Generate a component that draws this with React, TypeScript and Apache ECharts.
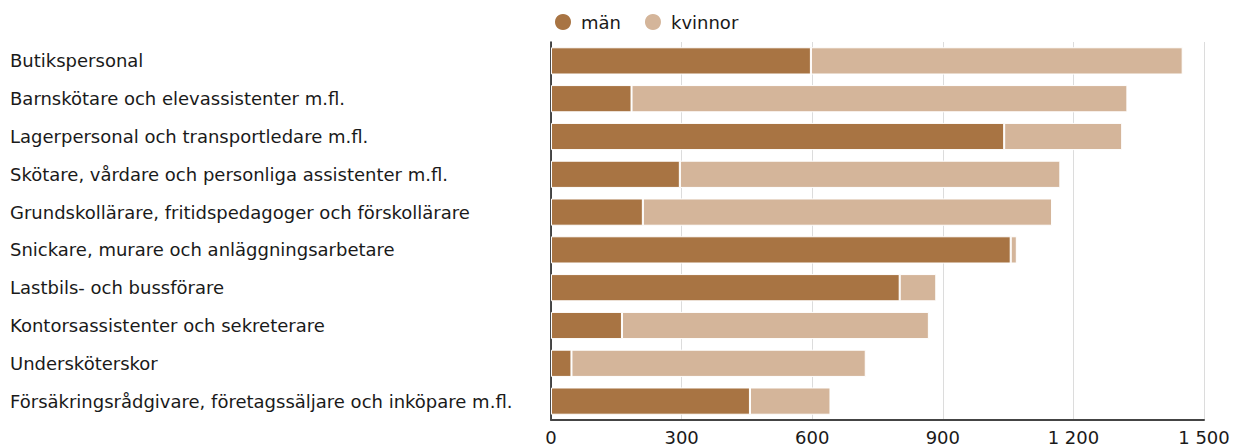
import React, { useEffect, useRef } from "react";
import * as echarts from "echarts";

const categories = [
  "Butikspersonal",
  "Barnskötare och elevassistenter m.fl.",
  "Lagerpersonal och transportledare m.fl.",
  "Skötare, vårdare och personliga assistenter m.fl.",
  "Grundskollärare, fritidspedagoger och förskollärare",
  "Snickare, murare och anläggningsarbetare",
  "Lastbils- och bussförare",
  "Kontorsassistenter och sekreterare",
  "Undersköterskor",
  "Försäkringsrådgivare, företagssäljare och inköpare m.fl.",
];
const man = [597, 185, 1041, 296, 211, 1056, 801, 163, 47, 457];
const kvinnor = [854, 1139, 271, 874, 940, 14, 84, 705, 676, 185];
const xTicks = [0, 300, 600, 900, 1200, 1500];

const FONT = "DejaVu Sans";

export default function App() {
  const ref = useRef<HTMLDivElement>(null);
  useEffect(() => {
    if (!ref.current) return;
    const chart = echarts.init(ref.current, undefined, { renderer: "svg" });
    chart.setOption({
      animation: false,
      legend: {
        top: 12,
        left: 553,
        padding: 0,
        itemWidth: 18,
        itemHeight: 18,
        itemGap: 22,
        icon: "circle",
        textStyle: { fontFamily: FONT, fontSize: 18, color: "#1a1a1a", padding: [0, 0, 0, 4] },
        data: ["män", "kvinnor"],
      },
      grid: { left: 551, right: 30, top: 42, bottom: 26, containLabel: false },
      xAxis: {
        type: "value",
        min: 0,
        max: 1500,
        interval: 300,
        axisLine: { show: true, lineStyle: { color: "#444", width: 2 } },
        axisTick: { show: false },
        splitLine: { show: true, lineStyle: { color: "#dcdcdc", width: 1 } },
        axisLabel: {
          fontFamily: FONT,
          fontSize: 18,
          lineHeight: 14,
          color: "#1a1a1a",
          margin: 10,
          formatter: (v: number) =>
            xTicks.includes(v) ? String(v).replace(/\B(?=(\d{3})+(?!\d))/g, " ") : "",
        },
      },
      yAxis: {
        type: "category",
        inverse: true,
        data: categories,
        axisLine: { show: true, lineStyle: { color: "#111", width: 1.5 } },
        axisTick: { show: false },
        axisLabel: {
          align: "left",
          margin: 541,
          fontFamily: FONT,
          fontSize: 18,
          color: "#1a1a1a",
        },
      },
      series: [
        {
          name: "män",
          type: "bar",
          stack: "total",
          data: man,
          barWidth: "72%",
          itemStyle: { color: "#a87443", borderColor: "#fff", borderWidth: 1 },
        },
        {
          name: "kvinnor",
          type: "bar",
          stack: "total",
          data: kvinnor,
          barWidth: "72%",
          itemStyle: { color: "#d4b59a", borderColor: "#fff", borderWidth: 1 },
        },
      ],
    });
    return () => chart.dispose();
  }, []);
  return (
    <div
      ref={ref}
      style={{ position: "absolute", left: 0, top: 0, width: 1234, height: 446 }}
    />
  );
}
